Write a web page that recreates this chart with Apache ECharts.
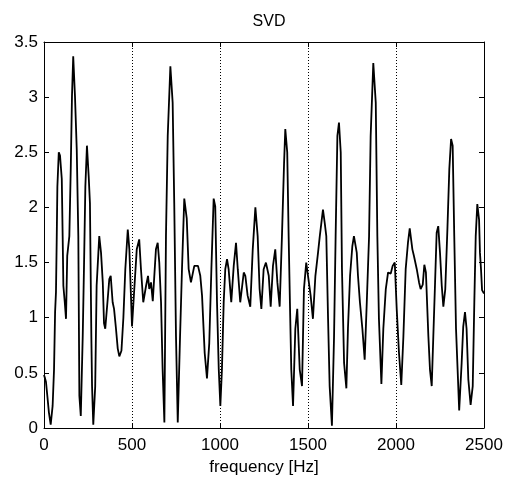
<!DOCTYPE html>
<html>
<head>
<meta charset="utf-8">
<script src="https://cdn.jsdelivr.net/npm/echarts@6/dist/echarts.min.js"></script>
<style>
html,body{margin:0;padding:0;background:#fff;}
#chart{width:507px;height:482px;}
</style>
</head>
<body>
<div id="chart"></div>
<script>
const titleText = 'SVD';
const xLabel = 'frequency [Hz]';
const xTicks = [0, 500, 1000, 1500, 2000, 2500];
const yTicks = [0, 0.5, 1, 1.5, 2, 2.5, 3, 3.5];

const freqs = [0,6,11,19,28,38,49,57,63,68,72,76,84,91,101,106,110,118,125,132,144,152,159,166,176,186,195,201,209,220,227,235,244,254,261,269,273,280,291,299,309,314,324,334,341,348,362,371,379,390,398,409,419,428,440,451,462,476,485,500,513,527,541,551,564,580,591,598,608,618,636,646,655,665,674,684,693,703,718,731,740,750,760,773,784,797,811,822,835,854,875,888,898,913,926,939,951,964,973,983,993,1002,1011,1021,1030,1040,1049,1064,1078,1091,1101,1115,1135,1144,1157,1172,1186,1201,1214,1225,1235,1248,1261,1277,1288,1301,1314,1326,1339,1352,1364,1371,1382,1390,1398,1405,1415,1428,1439,1453,1466,1477,1490,1500,1515,1528,1542,1557,1567,1576,1585,1595,1604,1614,1623,1636,1648,1657,1667,1676,1686,1693,1705,1718,1727,1739,1752,1761,1777,1784,1795,1809,1822,1834,1847,1856,1871,1885,1894,1903,1917,1928,1942,1955,1970,1981,1993,2004,2017,2030,2042,2055,2068,2078,2093,2102,2118,2131,2140,2152,2161,2170,2184,2193,2203,2212,2222,2231,2240,2250,2260,2269,2280,2292,2303,2313,2322,2331,2341,2350,2359,2373,2382,2392,2401,2411,2424,2436,2445,2453,2462,2472,2477,2483,2489,2500];
const svd = [0.48,0.45,0.42,0.29,0.14,0.03,0.2,0.53,1.05,1.23,1.68,2.19,2.5,2.47,2.26,1.74,1.29,1.14,0.99,1.56,1.74,2.35,3.01,3.37,3.01,2.53,1.74,0.29,0.11,0.83,1.44,2.19,2.56,2.28,2.04,0.83,0.38,0.03,0.38,1.29,1.59,1.74,1.59,1.32,0.95,0.9,1.17,1.35,1.38,1.14,1.08,0.9,0.72,0.65,0.7,1.0,1.44,1.8,1.62,0.92,1.26,1.62,1.71,1.44,1.14,1.29,1.38,1.26,1.32,1.15,1.62,1.68,1.5,1.14,0.53,0.05,1.74,2.65,3.28,2.95,2.04,0.83,0.05,0.83,1.44,2.08,1.9,1.44,1.32,1.47,1.47,1.38,1.2,0.68,0.45,0.77,1.44,2.08,2.01,1.14,0.53,0.2,0.53,1.14,1.44,1.53,1.44,1.14,1.47,1.68,1.44,1.14,1.41,1.38,1.2,1.1,1.62,2.0,1.74,1.26,1.08,1.44,1.5,1.38,1.1,1.47,1.62,1.32,1.1,1.74,2.4,2.71,2.5,1.74,1.08,0.53,0.2,0.9,1.08,0.53,0.38,1.26,1.5,1.38,1.2,0.99,1.38,1.59,1.74,1.86,1.98,1.86,1.74,0.99,0.38,0.02,0.83,1.74,2.65,2.77,2.5,1.44,0.59,0.36,0.9,1.38,1.65,1.74,1.59,1.38,1.14,0.9,0.62,1.14,1.74,2.65,3.31,2.95,1.74,0.99,0.4,0.9,1.26,1.41,1.4,1.47,1.5,1.08,0.68,0.39,0.83,1.44,1.68,1.81,1.62,1.56,1.44,1.32,1.26,1.3,1.48,1.41,0.83,0.53,0.38,0.83,1.32,1.77,1.83,1.59,1.29,1.1,1.26,1.8,2.35,2.62,2.56,1.74,0.9,0.53,0.16,0.59,0.92,1.05,0.9,0.44,0.21,0.38,1.14,1.74,2.03,1.89,1.59,1.44,1.25,1.22];

const data = freqs.map((f, i) => [f, svd[i]]);
const FONT = 'Liberation Sans, Arial, sans-serif';

const chart = echarts.init(document.getElementById('chart'), null, {renderer: 'canvas'});
const baseX = {
  type: 'value',
  min: xTicks[0], max: xTicks[xTicks.length - 1], interval: 500,
  axisLine: {show: true, onZero: false, lineStyle: {color: '#000', width: 1}},
  axisTick: {show: true, inside: true, length: 5, lineStyle: {color: '#000'}},
  splitLine: {show: false}
};
const baseY = {
  type: 'value',
  min: yTicks[0], max: yTicks[yTicks.length - 1], interval: 0.5,
  axisLine: {show: true, onZero: false, lineStyle: {color: '#000', width: 1}},
  axisTick: {show: true, inside: true, length: 5, lineStyle: {color: '#000'}},
  splitLine: {show: false}
};
chart.setOption({
  animation: false,
  backgroundColor: '#fff',
  title: {
    text: titleText, left: 264, top: 9, textAlign: 'center',
    textStyle: {fontFamily: FONT, fontSize: 16, fontWeight: 'normal', color: '#000'}
  },
  grid: {left: 44, right: 23, top: 42, bottom: 54, containLabel: false},
  xAxis: [
    Object.assign({}, baseX, {
      position: 'bottom',
      axisLabel: {show: true, color: '#000', fontFamily: FONT, fontSize: 17, margin: 9,
        formatter: v => String(v)},
      splitLine: {show: true, lineStyle: {color: '#000', type: [1, 2], width: 1}},
      name: xLabel, nameLocation: 'middle', nameGap: 31,
      nameTextStyle: {color: '#000', fontFamily: FONT, fontSize: 17}
    }),
    Object.assign({}, baseX, {position: 'top', axisLabel: {show: false}})
  ],
  yAxis: [
    Object.assign({}, baseY, {
      position: 'left',
      axisLabel: {show: true, color: '#000', fontFamily: FONT, fontSize: 17, margin: 6,
        formatter: v => String(v)}
    }),
    Object.assign({}, baseY, {position: 'right', axisLabel: {show: false}})
  ],
  series: [{
    type: 'line',
    data: data,
    showSymbol: false,
    smooth: false,
    lineStyle: {color: '#000', width: 1.8},
    xAxisIndex: 0, yAxisIndex: 0
  }]
});
</script>
</body>
</html>
